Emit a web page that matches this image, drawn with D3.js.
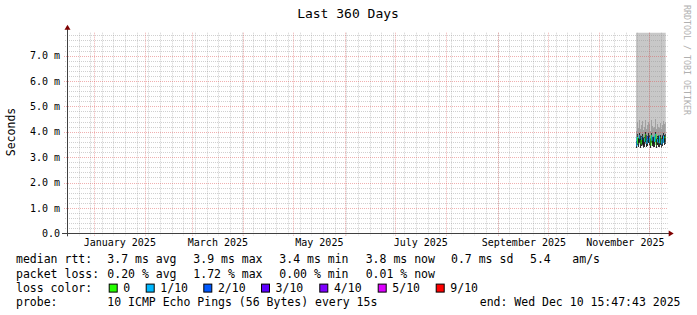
<!DOCTYPE html>
<html>
<head>
<meta charset="utf-8">
<script src="https://cdn.jsdelivr.net/npm/d3@7"></script>
<style>
  body { margin: 0; background: #fff; }
  text { font-family: "DejaVu Sans Mono", monospace; fill: #000; }
</style>
</head>
<body>
<div id="chart"></div>
<script>
// ---- data ----
var title = "Last 360 Days";
var yTitle = "Seconds";
var watermark = "RRDTOOL / TOBI OETIKER";

var yTicks = [0, 1, 2, 3, 4, 5, 6, 7];   // ms
var monthLabels = ["2025-01-16T12:00Z", "2025-03-16T12:00Z", "2025-05-16T12:00Z",
                   "2025-07-16T12:00Z", "2025-09-16T12:00Z", "2025-11-16T12:00Z"];

var rangeStart = "2024-12-16T01:30Z";
var rangeDays = 360;
var dataStart = "2025-11-23T06:00Z";   // first sample, 12 h steps
var stepHours = 12;

// median rtt per 12h sample (ms)
var median = [3.42, 3.78, 3.55, 3.72, 3.85, 3.50, 3.68, 3.80, 3.47, 3.75, 3.62, 3.88,
              3.52, 3.70, 3.82, 3.58, 3.74, 3.45, 3.86, 3.66, 3.54, 3.79, 3.62, 3.90,
              3.48, 3.72, 3.60, 3.84, 3.56, 3.76, 3.50, 3.70, 3.85, 3.58, 3.74, 3.80];
// lowest ping (ms)
var smokeLow = [3.35, 3.48, 3.40, 3.45, 3.55, 3.38, 3.44, 3.52, 3.36, 3.47, 3.42, 3.58,
                3.40, 3.45, 3.54, 3.39, 3.47, 3.35, 3.56, 3.43, 3.40, 3.51, 3.41, 3.60,
                3.37, 3.46, 3.42, 3.55, 3.40, 3.49, 3.38, 3.45, 3.56, 3.41, 3.47, 3.52];
// top of the dark inner smoke (ms)
var smokeDark = [3.62, 3.90, 3.76, 3.86, 3.96, 3.70, 3.82, 3.93, 3.66, 3.88, 3.78, 3.98,
                 3.72, 3.85, 3.94, 3.76, 3.87, 3.64, 3.97, 3.80, 3.73, 3.91, 3.78, 4.00,
                 3.68, 3.85, 3.76, 3.95, 3.75, 3.88, 3.70, 3.84, 3.96, 3.76, 3.86, 3.92];
// top of the mid gray smoke (ms)
var smokeMid = [4.05, 4.40, 4.15, 4.30, 4.48, 4.10, 4.25, 4.42, 4.08, 4.35, 4.20, 4.45,
                4.12, 4.28, 4.40, 4.18, 4.32, 4.05, 4.46, 4.22, 4.14, 4.38, 4.20, 4.50,
                4.10, 4.30, 4.18, 4.44, 4.16, 4.36, 4.12, 4.26, 4.42, 4.18, 4.30, 4.38];
// highest ping (ms), off the top of the chart
var smokeMax = [9.8, 12.4, 10.6, 15.2, 11.0, 9.4, 13.8, 10.2, 12.0, 9.9, 14.6, 11.3,
                10.8, 12.7, 9.6, 13.1, 10.4, 11.8, 16.0, 10.0, 12.2, 9.7, 11.5, 13.4,
                10.9, 12.9, 9.5, 11.1, 14.0, 10.3, 12.5, 9.9, 11.7, 13.6, 10.7, 12.1];
// loss bucket per sample (index into lossLabels), -1 = drawn dark
var lossBucket = [-1, 1, 0, -1, 1, -1, 0, 1, -1, -1, 1, 0, -1, 1, 2, -1, 1, -1,
                  0, 1, -1, -1, 1, 1, 0, -1, 1, -1, 1, 0, -1, 1, -1, 1, -1, 0];

var lossLabels = ["0", "1/10", "2/10", "3/10", "4/10", "5/10", "9/10"];
var lossColors = ["#26ff00", "#00b8ff", "#0059ff", "#5e00ff", "#7e00ff", "#dd00ff", "#ff0000"];

var rttStats = ["3.7 ms avg", "3.9 ms max", "3.4 ms min", "3.8 ms now", "0.7 ms sd", "5.4", "am/s"];
var lossStats = ["0.20 % avg", "1.72 % max", "0.00 % min", "0.01 % now"];
var probeText = "10 ICMP Echo Pings (56 Bytes) every 15s";
var endText = "end: Wed Dec 10 15:47:43 2025";

// ---- layout ----
var W = 697, H = 315;
var plot = {left: 67, right: 665.7, top: 32.7, bottom: 233.3};

var svg = d3.select("#chart").append("svg")
    .attr("width", W)
    .attr("height", H);

var t0 = new Date(rangeStart);
var t1 = d3.timeDay.offset(t0, rangeDays);

var x = d3.scaleUtc()
    .domain([t0, t1])
    .range([plot.left, plot.right]);

var y = d3.scaleLinear()
    .domain([0, 7.905])
    .range([plot.bottom, plot.top]);

var times = median.map(function(d, i) {
  return d3.utcHour.offset(new Date(dataStart), i * stepHours);
});
var samples = median.map(function(d, i) {
  return {t: times[i], t2: i < median.length - 1 ? times[i + 1] : t1,
          med: d, low: smokeLow[i], dark: smokeDark[i], mid: smokeMid[i],
          max: smokeMax[i], loss: lossBucket[i]};
});

svg.append("clipPath").attr("id", "plotclip")
  .append("rect")
    .attr("x", plot.left).attr("y", plot.top)
    .attr("width", plot.right - plot.left)
    .attr("height", plot.bottom - plot.top);

// ---- smoke ----
var smoke = svg.append("g").attr("clip-path", "url(#plotclip)");

function band(key, color) {
  smoke.selectAll(null)
      .data(samples)
    .enter().append("rect")
      .attr("x", function(d) { return x(d.t); })
      .attr("width", function(d) { return x(d.t2) - x(d.t); })
      .attr("y", function(d) { return y(d[key]); })
      .attr("height", function(d) { return y(d.low) - y(d[key]); })
      .attr("fill", color)
      .attr("shape-rendering", "crispEdges");
}
band("max", "#c8c8c8");
band("mid", "#a0a0a0");
band("dark", "#2e2e2e");

// ---- grid (drawn over the data like rrdtool) ----
var grid = svg.append("g");
var minorColor = "rgba(150,150,150,0.45)", majorColor = "rgba(222,80,80,0.45)";

var minorY = d3.range(1, 40).map(function(i) { return i * 0.2; })
    .filter(function(v) { return Math.abs(v - Math.round(v)) > 0.01; });
grid.selectAll(".minY")
    .data(minorY)
  .enter().append("line")
    .attr("x1", plot.left - 2).attr("x2", plot.right + 2)
    .attr("y1", function(d) { return Math.round(y(d)) + 0.5; })
    .attr("y2", function(d) { return Math.round(y(d)) + 0.5; })
    .attr("stroke", minorColor)
    .attr("stroke-dasharray", "1,1");

var weeks = d3.utcMonday.range(t0, t1);
grid.selectAll(".minX")
    .data(weeks)
  .enter().append("line")
    .attr("x1", function(d) { return Math.round(x(d)) + 0.5; })
    .attr("x2", function(d) { return Math.round(x(d)) + 0.5; })
    .attr("y1", plot.top).attr("y2", plot.bottom + 2)
    .attr("stroke", minorColor)
    .attr("stroke-dasharray", "1,1");

grid.selectAll(".majY")
    .data(yTicks.slice(1))
  .enter().append("line")
    .attr("x1", plot.left - 3).attr("x2", plot.right + 2)
    .attr("y1", function(d) { return Math.round(y(d)) + 0.5; })
    .attr("y2", function(d) { return Math.round(y(d)) + 0.5; })
    .attr("stroke", majorColor)
    .attr("stroke-dasharray", "1,1");

var months = d3.utcMonth.range(d3.utcMonth.ceil(t0), t1);
grid.selectAll(".majX")
    .data(months)
  .enter().append("line")
    .attr("x1", function(d) { return Math.round(x(d)) + 0.5; })
    .attr("x2", function(d) { return Math.round(x(d)) + 0.5; })
    .attr("y1", plot.top).attr("y2", plot.bottom + 3)
    .attr("stroke", majorColor)
    .attr("stroke-dasharray", "1,1");

// ---- median line coloured by loss ----
var med = svg.append("g").attr("clip-path", "url(#plotclip)");
med.selectAll("path")
    .data(samples)
  .enter().append("path")
    .attr("d", function(d, i) {
      var prev = i > 0 ? samples[i - 1].med : d.med;
      return "M" + x(d.t) + "," + y(prev) + "V" + y(d.med) + "H" + x(d.t2);
    })
    .attr("fill", "none")
    .attr("stroke", function(d) { return d.loss < 0 ? "#1a1a1a" : lossColors[d.loss]; })
    .attr("stroke-width", 1);

// ---- axes ----
var axisColor = "#404040", arrowColor = "#7f0000";

svg.append("line")
    .attr("x1", plot.left - 5).attr("x2", plot.right + 4)
    .attr("y1", Math.round(plot.bottom) + 0.5).attr("y2", Math.round(plot.bottom) + 0.5)
    .attr("stroke", axisColor);
svg.append("line")
    .attr("x1", plot.left + 0.5).attr("x2", plot.left + 0.5)
    .attr("y1", plot.bottom + 3).attr("y2", plot.top - 4)
    .attr("stroke", axisColor);
svg.append("path")
    .attr("d", "M" + (plot.right + 3) + "," + (Math.round(plot.bottom) - 2.5) +
               "L" + (plot.right + 8) + "," + (Math.round(plot.bottom) + 0.5) +
               "L" + (plot.right + 3) + "," + (Math.round(plot.bottom) + 3.5) + "Z")
    .attr("fill", arrowColor);
svg.append("path")
    .attr("d", "M" + (plot.left - 2.5) + "," + (plot.top - 3) +
               "L" + (plot.left + 0.5) + "," + (plot.top - 8) +
               "L" + (plot.left + 3.5) + "," + (plot.top - 3) + "Z")
    .attr("fill", arrowColor);

// y tick labels
svg.append("g").selectAll("text")
    .data(yTicks)
  .enter().append("text")
    .attr("x", 60)
    .attr("y", function(d) { return y(d); })
    .attr("dy", "0.36em")
    .attr("text-anchor", "end")
    .style("font-size", "10px")
    .text(function(d) { return d === 0 ? "0.0" : d3.format(".1f")(d) + " m"; });

// x labels through a d3 axis
var xAxis = d3.axisBottom(x)
    .tickValues(monthLabels.map(function(s) { return new Date(s); }))
    .tickFormat(d3.utcFormat("%B %Y"))
    .tickSize(0)
    .tickPadding(0);
var gx = svg.append("g")
    .attr("transform", "translate(0," + 239 + ")")
    .call(xAxis);
gx.select(".domain").remove();
gx.selectAll("text")
    .attr("dy", "0.73em")
    .style("font-family", "\"DejaVu Sans Mono\", monospace")
    .style("font-size", "10px")
    .attr("fill", "#000");

// ---- titles ----
svg.append("text")
    .attr("x", 348).attr("y", 18.3)
    .attr("text-anchor", "middle")
    .style("font-size", "13px")
    .text(title);

svg.append("text")
    .attr("transform", "translate(15,132) rotate(-90)")
    .attr("text-anchor", "middle")
    .style("font-size", "11.5px")
    .text(yTitle);

svg.append("text")
    .attr("transform", "translate(684,5) rotate(90)")
    .style("font-size", "8.3px")
    .style("fill", "#b0b0b0")
    .text(watermark);

// ---- legend ----
var lg = svg.append("g").style("font-size", "11.5px");
var rows = [263.4, 277.5, 291.6, 305.7];
var rttX = [107.3, 193.3, 279.3, 365.7, 451, 530, 572.3];

lg.append("text").attr("x", 16).attr("y", rows[0]).text("median rtt:");
lg.selectAll(".rtt")
    .data(rttStats)
  .enter().append("text")
    .attr("x", function(d, i) { return rttX[i]; })
    .attr("y", rows[0])
    .text(function(d) { return d; });

lg.append("text").attr("x", 16).attr("y", rows[1]).text("packet loss:");
lg.selectAll(".loss")
    .data(lossStats)
  .enter().append("text")
    .attr("x", function(d, i) { return rttX[i]; })
    .attr("y", rows[1])
    .text(function(d) { return d; });

lg.append("text").attr("x", 16).attr("y", rows[2]).text("loss color:");
var boxX = [108.7, 145.7, 203.3, 261, 319.3, 377.7, 435.7];
var sw = lg.selectAll(".sw")
    .data(lossLabels)
  .enter().append("g");
sw.append("rect")
    .attr("x", function(d, i) { return boxX[i] + 0.5; })
    .attr("y", rows[2] - 7.5)
    .attr("width", 8).attr("height", 8)
    .attr("fill", function(d, i) { return lossColors[i]; })
    .attr("stroke", "#000");
sw.append("text")
    .attr("x", function(d, i) { return boxX[i] + 14.6; })
    .attr("y", rows[2])
    .text(function(d) { return d; });

lg.append("text").attr("x", 16).attr("y", rows[3]).text("probe:");
lg.append("text").attr("x", 107.3).attr("y", rows[3]).text(probeText);
lg.append("text").attr("x", 680.5).attr("y", rows[3])
    .attr("text-anchor", "end").text(endText);
</script>
</body>
</html>
